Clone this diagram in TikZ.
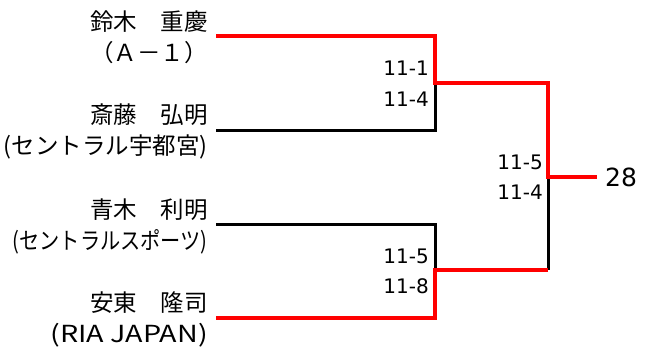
\documentclass[tikz,border=0pt]{standalone}
\usepackage{fontspec}
\setmainfont{Noto Sans CJK JP}
\newfontfamily\scorefont{DejaVu Sans}
\tikzset{
  winner/.style = {draw=red,line width=4pt},
  loser/.style = {draw=black,line width=3pt},
  player/.style = {anchor=east,align=right,inner sep=0pt,
    font=\fontsize{23.5}{31}\selectfont},
  score/.style = {anchor=east,inner sep=0pt,
    font=\scorefont\fontsize{20}{24}\selectfont}
}

\begin{document}
\begin{tikzpicture}[x=1pt,y=-1pt]
  \useasboundingbox (0,0) rectangle (651,354);
  % players
  \node[player] (p1) at (208,37.5) {鈴木　重慶\\（Ａ－１）};
  \node[player] (p2) at (208,131) {斎藤　弘明\\(セントラル宇都宮)};
  \node[player] (p3) at (208,226) {青木　利明\\\scalebox{0.86}[1]{(セントラルスポーツ)}};
  \node[player] (p4) at (208,319) {安東　隆司\\\scalebox{1.22}[1]{(RIA JAPAN)}};
  \coordinate (s1) at (216,36);
  \coordinate (s2) at (216,130);
  \coordinate (s3) at (216,224);
  \coordinate (s4) at (216,318);
  \coordinate (m1) at (435,83);
  \coordinate (m2) at (435,270);
  \coordinate (f) at (548,177);
  \coordinate (w) at (597,177);
  % lines
  \draw[loser] (s2) -- (s2 -| m1) -- (m1);
  \draw[loser] (s3) -- (s3 -| m2) -- (m2);
  \draw[loser] (f) -- (m2 -| f);
  \draw[winner] (s1) -- (s1 -| m1) -- (m1) -- (m1 -| f) -- (f) -- (w);
  \draw[winner] (s4) -- (s4 -| m2) -- (m2) -- (m2 -| f);
  % scores
  \node[score] (r1a) at (429,68) {11-1};
  \node[score] (r1b) at (429,99) {11-4};
  \node[score] (r2a) at (429,256) {11-5};
  \node[score] (r2b) at (429,286) {11-8};
  \node[score] (fa) at (543,162) {11-5};
  \node[score] (fb) at (543,192) {11-4};
  \node[anchor=west,inner sep=0pt,font=\scorefont\fontsize{25}{30}\selectfont] (win) at (605,177) {28};
\end{tikzpicture}
\end{document}
